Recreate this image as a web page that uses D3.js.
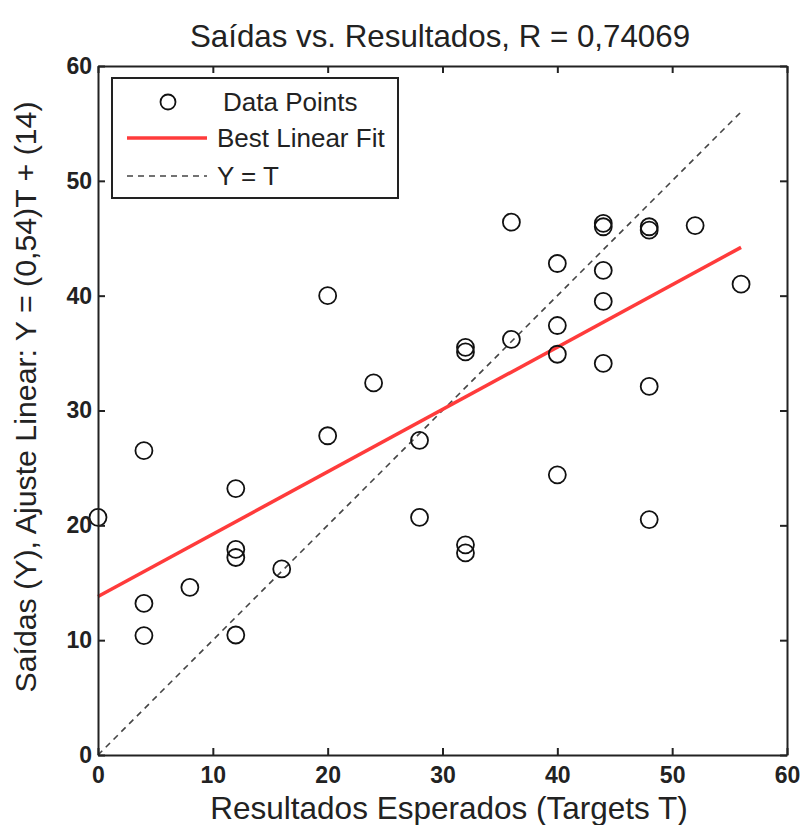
<!DOCTYPE html>
<html>
<head>
<meta charset="utf-8">
<script src="https://cdn.jsdelivr.net/npm/d3@7"></script>
<style>
  html, body { margin: 0; padding: 0; background: #ffffff; }
  svg { display: block; }
  text { font-family: "Liberation Sans", Arial, sans-serif; fill: #222; }
</style>
</head>
<body>
<script>
// Data
const targets = [0, 4, 4, 4, 8, 12, 12, 12, 12, 16, 20, 20, 24, 28, 28, 32, 32, 32, 32,
                 36, 36, 40, 40, 40, 40, 44, 44, 44, 44, 44, 48, 48, 48, 48, 52, 56];
const outputs = [20.7, 26.5, 13.2, 10.4, 14.6, 23.2, 17.9, 17.2, 10.45, 16.2, 40.0, 27.8, 32.4, 27.4, 20.7, 35.5, 35.1, 18.3, 17.6,
                 46.4, 36.2, 42.8, 37.4, 34.9, 24.4, 46.3, 46.0, 42.2, 39.5, 34.1, 46.0, 45.7, 32.1, 20.5, 46.1, 41.0];
const fitSlope = 0.543;
const fitIntercept = 13.8;
const xTicks = [0, 10, 20, 30, 40, 50, 60];
const yTicks = [0, 10, 20, 30, 40, 50, 60];
const titleText = "Saídas vs. Resultados, R = 0,74069";
const xLabelText = "Resultados Esperados (Targets T)";
const yLabelText = "Saídas (Y), Ajuste Linear: Y = (0,54)T + (14)";
const legendLabels = ["Data Points", "Best Linear Fit", "Y = T"];

(function () {
const W = 800, H = 825;
const pL = 98, pR = 787, pT = 66, pB = 755;

const svg = d3.select("body").append("svg").attr("width", W).attr("height", H);

const x = d3.scaleLinear().domain([0, 60]).range([pL, pR]);
const y = d3.scaleLinear().domain([0, 60]).range([pB, pT]);

const tMax = d3.max(targets);
const tMin = d3.min(targets);

// Y = T dashed line
svg.append("line")
  .attr("x1", x(tMin)).attr("y1", y(tMin))
  .attr("x2", x(tMax)).attr("y2", y(tMax))
  .attr("stroke", "#444").attr("stroke-width", 1.6)
  .attr("stroke-dasharray", "6,5");

// Best linear fit
svg.append("line")
  .attr("x1", x(tMin)).attr("y1", y(fitIntercept + fitSlope * tMin))
  .attr("x2", x(tMax)).attr("y2", y(fitIntercept + fitSlope * tMax))
  .attr("stroke", "#ff3b3b").attr("stroke-width", 3.5);

// Data points
svg.append("g").selectAll("circle")
  .data(targets.map((t, i) => [t, outputs[i]]))
  .join("circle")
  .attr("cx", d => x(d[0])).attr("cy", d => y(d[1]))
  .attr("r", 8.5)
  .attr("fill", "none").attr("stroke", "#111").attr("stroke-width", 1.8);

// Axes (all four sides, ticks inward)
const tickLen = 7;
const axB = svg.append("g").attr("transform", `translate(0,${pB})`)
  .call(d3.axisBottom(x).tickValues(xTicks).tickSizeInner(-tickLen).tickSizeOuter(0).tickPadding(12));
const axT = svg.append("g").attr("transform", `translate(0,${pT})`)
  .call(d3.axisTop(x).tickValues(xTicks).tickSizeInner(-tickLen).tickSizeOuter(0).tickFormat(""));
const axL = svg.append("g").attr("transform", `translate(${pL},0)`)
  .call(d3.axisLeft(y).tickValues(yTicks).tickSizeInner(-tickLen).tickSizeOuter(0).tickPadding(6));
const axR = svg.append("g").attr("transform", `translate(${pR},0)`)
  .call(d3.axisRight(y).tickValues(yTicks).tickSizeInner(-tickLen).tickSizeOuter(0).tickFormat(""));

[axB, axT, axL, axR].forEach(a => {
  a.select(".domain").attr("stroke", "#222").attr("stroke-width", 2);
  a.selectAll(".tick line").attr("stroke", "#222").attr("stroke-width", 2);
  a.selectAll(".tick text").attr("font-size", 23).attr("font-family", "Liberation Sans, Arial, sans-serif")
    .attr("fill", "#2a2a4a").style("font-weight", "bold");
});
axB.selectAll(".tick text").attr("dy", "0.71em");

// Title
svg.append("text")
  .attr("x", 440).attr("y", 47)
  .attr("text-anchor", "middle").attr("font-size", 31.3)
  .attr("fill", "#333")
  .text(titleText);

// X label
svg.append("text")
  .attr("x", 449).attr("y", 819)
  .attr("text-anchor", "middle").attr("font-size", 31.5)
  .attr("fill", "#333")
  .text(xLabelText);

// Y label
svg.append("text")
  .attr("transform", `translate(36,397) rotate(-90)`)
  .attr("text-anchor", "middle").attr("font-size", 30.3)
  .attr("fill", "#333")
  .text(yLabelText);

// Legend
const lg = svg.append("g");
lg.append("rect")
  .attr("x", 112).attr("y", 78).attr("width", 286).attr("height", 120)
  .attr("fill", "#fff").attr("stroke", "#222").attr("stroke-width", 2);
lg.append("circle").attr("cx", 168).attr("cy", 102).attr("r", 7.5)
  .attr("fill", "none").attr("stroke", "#111").attr("stroke-width", 1.8);
lg.append("line").attr("x1", 127).attr("x2", 207).attr("y1", 138).attr("y2", 138)
  .attr("stroke", "#ff3b3b").attr("stroke-width", 3.5);
lg.append("line").attr("x1", 127).attr("x2", 207).attr("y1", 176).attr("y2", 176)
  .attr("stroke", "#444").attr("stroke-width", 1.6).attr("stroke-dasharray", "6,5");
const legX = [223, 217, 217];
const legY = [111, 147, 185];
legendLabels.forEach((t, i) => {
  lg.append("text").attr("x", legX[i]).attr("y", legY[i])
    .attr("font-size", 26).attr("fill", "#2a2a4a").text(t);
});
})();
</script>
</body>
</html>
